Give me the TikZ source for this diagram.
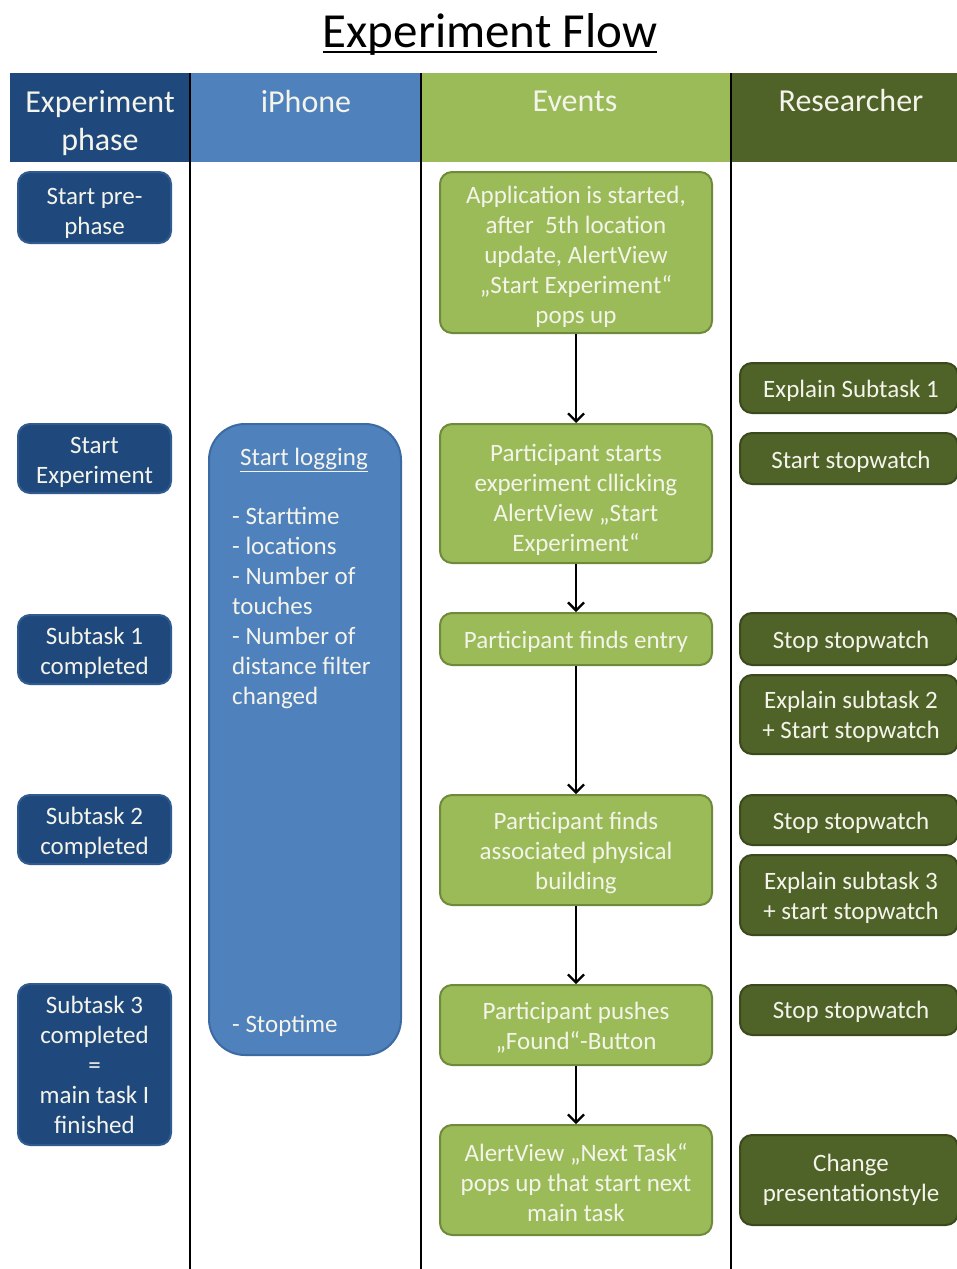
\documentclass[tikz,border=0pt]{standalone}
\usepackage{fontspec}
\setmainfont{Carlito}
\usetikzlibrary{arrows.meta}

\definecolor{phasefill}{HTML}{1F497D}
\definecolor{phaseedge}{HTML}{2F5B90}
\definecolor{phonefill}{HTML}{4F81BD}
\definecolor{phoneedge}{HTML}{3C6AA3}
\definecolor{eventfill}{HTML}{9BBB59}
\definecolor{eventedge}{HTML}{6E8A3A}
\definecolor{resfill}{HTML}{4F6228}
\definecolor{resedge}{HTML}{3A4A1C}
\definecolor{lighttext}{HTML}{F4F4EA}

\tikzset{
  x=1pt, y=-1pt,
  bodyfont/.style={font=\fontsize{25}{30}\selectfont},
  headcell/.style={draw=none, inner sep=0pt, anchor=north west},
  headtext/.style={text=lighttext, font=\fontsize{32}{38}\selectfont, align=center, inner sep=0pt},
  boxbase/.style={rounded corners=12pt, line width=2pt, inner sep=0pt},
  boxtext/.style={bodyfont, text=lighttext, align=center, inner sep=0pt},
  phasebox/.style={boxbase, fill=phasefill, draw=phaseedge, minimum width=153pt},
  eventbox/.style={boxbase, fill=eventfill, draw=eventedge, minimum width=272pt},
  resbox/.style={boxbase, fill=resfill, draw=resedge, minimum width=218pt},
  lane/.style={line width=1.6pt, black},
  flow/.style={line width=2.3pt, -{Straight Barb[length=8pt,width=16pt,line width=2.3pt]}},
}

\begin{document}
\begin{tikzpicture}
\useasboundingbox (0,0) rectangle (957,1269);

% title with its rule
\node[inner sep=0pt] (title) at (490,34) {\fontsize{49}{56}\selectfont Experiment Flow};
\coordinate (ulw) at ([yshift=-5pt]title.base west);
\coordinate (ule) at ([yshift=-5pt]title.base east);
\draw[line width=2.4pt] (ulw) -- (ule);

% header band
\node[headcell, fill=phasefill, minimum width=180pt, minimum height=89pt] (h1) at (10,73) {};
\node[headcell, fill=phonefill, minimum width=231pt, minimum height=89pt] (h2) at (190,73) {};
\node[headcell, fill=eventfill, minimum width=310pt, minimum height=89pt] (h3) at (421,73) {};
\node[headcell, fill=resfill, minimum width=226pt, minimum height=89pt] (h4) at (731,73) {};
\node[headtext] (t1) at (100,123) {Experiment\\phase};
\node[headtext] (t2) at (306,101) {iPhone};
\node[headtext] (t3) at (575,101) {Events};
\node[headtext] (t4) at (851,101) {Researcher};

% lane separators
\coordinate (l1t) at (190,73); \coordinate (l1b) at (190,1269);
\coordinate (l2t) at (421,73); \coordinate (l2b) at (421,1269);
\coordinate (l3t) at (731,73); \coordinate (l3b) at (731,1269);
\draw[lane] (l1t) -- (l1b);
\draw[lane] (l2t) -- (l2b);
\draw[lane] (l3t) -- (l3b);

% experiment phases
\node[phasebox, minimum height=71pt] (p0) at (94.5,207.5) {};
\node[boxtext] (p0t) at (94.5,213.5) {Start pre-\\phase};
\node[phasebox, minimum height=69pt] (p1) at (94.5,458.5) {};
\node[boxtext] (p1t) at (94.5,462.5) {Start\\Experiment};
\node[phasebox, minimum height=69pt] (p2) at (94.5,649.5) {};
\node[boxtext] (p2t) at (94.5,652.5) {Subtask 1\\completed};
\node[phasebox, minimum height=69pt] (p3) at (94.5,829.5) {};
\node[boxtext] (p3t) at (94.5,832.5) {Subtask 2\\completed};
\node[phasebox, minimum height=161pt] (p4) at (94.5,1064.5) {};
\node[boxtext] (p4t) at (94.5,1064.5) {Subtask 3\\completed\\=\\main task I\\finished};

% iPhone logging
\node[fill=phonefill, draw=phoneedge, line width=2pt, rounded corners=36pt,
      minimum width=192pt, minimum height=631pt, inner sep=0pt] (phone) at (305,739.5) {};
\node[bodyfont, text=lighttext, inner sep=0pt] (logtitle) at (304,460) {\underline{Start logging}};
\node[bodyfont, text=lighttext, align=left, anchor=north west, inner sep=0pt] (logitems) at (232,507)
  {- Starttime\\- locations\\- Number of\\touches\\- Number of\\distance filter\\changed};
\node[bodyfont, text=lighttext, anchor=west, inner sep=0pt] (logstop) at (232,1026) {- Stoptime};

% events
\node[eventbox, minimum height=161pt] (e1) at (576,252.5) {};
\node[boxtext] (e1t) at (576,256.5)
  {Application is started,\\after\ \ 5th location\\update, AlertView\\„Start Experiment“\\pops up};
\node[eventbox, minimum height=139pt] (e2) at (576,493.5) {};
\node[boxtext] (e2t) at (576,499.5)
  {Participant starts\\experiment cllicking\\AlertView „Start\\Experiment“};
\node[eventbox, minimum height=52pt] (e3) at (576,639) {};
\node[boxtext] (e3t) at (576,642) {Participant finds entry};
\node[eventbox, minimum height=110pt] (e4) at (576,850) {};
\node[boxtext] (e4t) at (576,853)
  {Participant finds\\associated physical\\building};
\node[eventbox, minimum height=80pt] (e5) at (576,1025) {};
\node[boxtext] (e5t) at (576,1028)
  {Participant pushes\\„Found“-Button};
\node[eventbox, minimum height=110pt] (e6) at (576,1180) {};
\node[boxtext] (e6t) at (576,1183)
  {AlertView „Next Task“\\pops up that start next\\main task};

\draw[flow] (e1) -- (e2);
\draw[flow] (e2) -- (e3);
\draw[flow] (e3) -- (e4);
\draw[flow] (e4) -- (e5);
\draw[flow] (e5) -- (e6);

% researcher actions
\node[resbox, minimum height=50pt] (r1) at (849,388) {};
\node[boxtext] (r1t) at (851,391) {Explain Subtask 1};
\node[resbox, minimum height=51pt] (r2) at (849,458.5) {};
\node[boxtext] (r2t) at (851,461.5) {Start stopwatch};
\node[resbox, minimum height=52pt] (r3) at (849,639) {};
\node[boxtext] (r3t) at (851,642) {Stop stopwatch};
\node[resbox, minimum height=79pt] (r4) at (849,714.5) {};
\node[boxtext] (r4t) at (851,716.5) {Explain subtask 2\\+ Start stopwatch};
\node[resbox, minimum height=50pt] (r5) at (849,820) {};
\node[boxtext] (r5t) at (851,823) {Stop stopwatch};
\node[resbox, minimum height=80pt] (r6) at (849,895) {};
\node[boxtext] (r6t) at (851,898) {Explain subtask 3\\+ start stopwatch};
\node[resbox, minimum height=50pt] (r7) at (849,1010) {};
\node[boxtext] (r7t) at (851,1012) {Stop stopwatch};
\node[resbox, minimum height=90pt] (r8) at (849,1180) {};
\node[boxtext] (r8t) at (851,1180) {Change\\presentationstyle};
\end{tikzpicture}
\end{document}
